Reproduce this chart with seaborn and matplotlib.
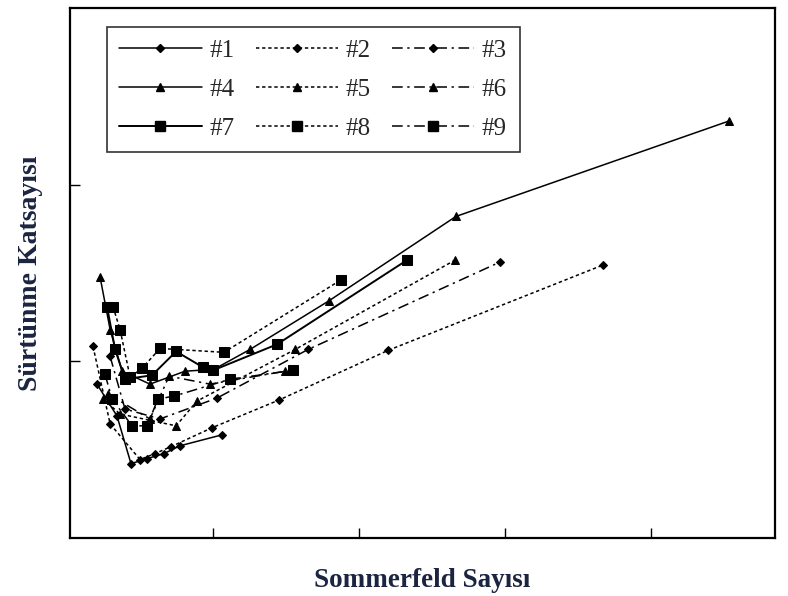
import matplotlib
matplotlib.use("Agg")
import matplotlib.pyplot as plt
from matplotlib.lines import Line2D
import seaborn as sns
import pandas as pd

# Friction coefficient vs. Sommerfeld number for nine test runs
s1 = [0.205, 0.342, 0.438, 0.548, 0.664, 0.774, 1.062]
f1 = [0.0871, 0.0691, 0.0421, 0.0449, 0.0478, 0.0522, 0.0584]

s2 = [0.178, 0.295, 0.500, 0.603, 0.712, 0.993, 1.452, 2.199, 3.671]
f2 = [0.1084, 0.0646, 0.0444, 0.0478, 0.0517, 0.0624, 0.0781, 0.1062, 0.1545]

s3 = [0.295, 0.397, 0.637, 1.027, 1.651, 2.966]
f3 = [0.1028, 0.0730, 0.0674, 0.0792, 0.1067, 0.1562]

s4 = [0.226, 0.295, 0.377, 0.568, 0.808, 1.007, 1.253, 1.795, 2.664, 4.534]
f4 = [0.1478, 0.1180, 0.0944, 0.0871, 0.0944, 0.0955, 0.1067, 0.1343, 0.1820, 0.2360]

s5 = [0.247, 0.363, 0.747, 0.890, 1.562, 2.658]
f5 = [0.0787, 0.0702, 0.0635, 0.0775, 0.1067, 0.1573]

s6 = [0.281, 0.568, 0.699, 0.979, 1.493]
f6 = [0.0815, 0.0674, 0.0916, 0.0871, 0.0944]

s7 = [0.274, 0.329, 0.397, 0.582, 0.747, 0.932, 1.000, 1.438, 2.329]
f7 = [0.1309, 0.1067, 0.0899, 0.0921, 0.1056, 0.0966, 0.0949, 0.1096, 0.1573]

s8 = [0.315, 0.363, 0.432, 0.514, 0.637, 1.075, 1.877]
f8 = [0.1309, 0.1180, 0.0910, 0.0961, 0.1073, 0.1051, 0.1461]

s9 = [0.260, 0.308, 0.445, 0.548, 0.623, 0.733, 1.116, 1.548]
f9 = [0.0927, 0.0787, 0.0635, 0.0635, 0.0787, 0.0803, 0.0899, 0.0949]

names = ["#1", "#2", "#3", "#4", "#5", "#6", "#7", "#8", "#9"]
xs = [s1, s2, s3, s4, s5, s6, s7, s8, s9]
ys = [f1, f2, f3, f4, f5, f6, f7, f8, f9]

x_ticks = [1, 2, 3, 4]
y_ticks = [0.1, 0.2]

solid = "-"
dotted = (0, (2.2, 1.8))
dashdot = (0, (7, 3, 1.5, 3))
line_styles = [solid, dotted, dashdot] * 3
markers = ["D"] * 3 + ["^"] * 3 + ["s"] * 3
msizes = [4.2] * 3 + [5.5] * 3 + [6.5] * 3
lwidths = [1.1, 1.1, 1.1, 1.1, 1.1, 1.1, 1.4, 1.1, 1.1]

sns.set_theme(style="white")
plt.rcParams["font.family"] = ["Liberation Serif", "DejaVu Serif"]

fig = plt.figure(figsize=(7.88, 5.96), dpi=100)
ax = fig.add_axes([0.0888, 0.0973, 0.8947, 0.8893])

for i, name in enumerate(names):
    df = pd.DataFrame({"S": xs[i], "mu": ys[i]})
    sns.lineplot(data=df, x="S", y="mu", ax=ax, sort=False, estimator=None,
                 color="black", linewidth=lwidths[i], linestyle=line_styles[i],
                 marker=markers[i], markersize=msizes[i],
                 markeredgecolor="black", markerfacecolor="black")

ax.set_xlim(0.02, 4.85)
ax.set_ylim(0.0, 0.30)
ax.set_xticks(x_ticks)
ax.set_yticks(y_ticks)
ax.set_xticklabels([])
ax.set_yticklabels([])
ax.tick_params(axis="both", direction="in", length=7, width=1.0, color="black",
               bottom=True, left=True, top=False, right=False)
for sp in ax.spines.values():
    sp.set_color("black")
    sp.set_linewidth(1.6)

label_color = "#1b2440"
ax.set_xlabel("Sommerfeld Sayısı", fontsize=19.5, fontweight="bold",
              color=label_color, labelpad=18)
ax.set_ylabel("Sürtünme Katsayısı", fontsize=20, fontweight="bold",
              color=label_color, labelpad=16)

# Legend laid out in three rows: #1 #2 #3 / #4 #5 #6 / #7 #8 #9
order = [0, 3, 6, 1, 4, 7, 2, 5, 8]
handles = [Line2D([], [], color="black", linewidth=lwidths[i],
                  linestyle=line_styles[i], marker=markers[i],
                  markersize=msizes[i], markeredgecolor="black",
                  markerfacecolor="black") for i in order]
labels = [names[i] for i in order]
leg = ax.legend(handles, labels, ncol=3, loc="upper left",
                bbox_to_anchor=(0.052, 0.964), borderaxespad=0.0, fontsize=18,
                handlelength=3.3, handletextpad=0.3, columnspacing=0.85,
                labelspacing=0.65, borderpad=0.5, frameon=True,
                fancybox=False, shadow=False, markerscale=1.0)
leg.get_frame().set_edgecolor("black")
leg.get_frame().set_linewidth(1.2)

fig.savefig("out.png", dpi=100, facecolor="white")
